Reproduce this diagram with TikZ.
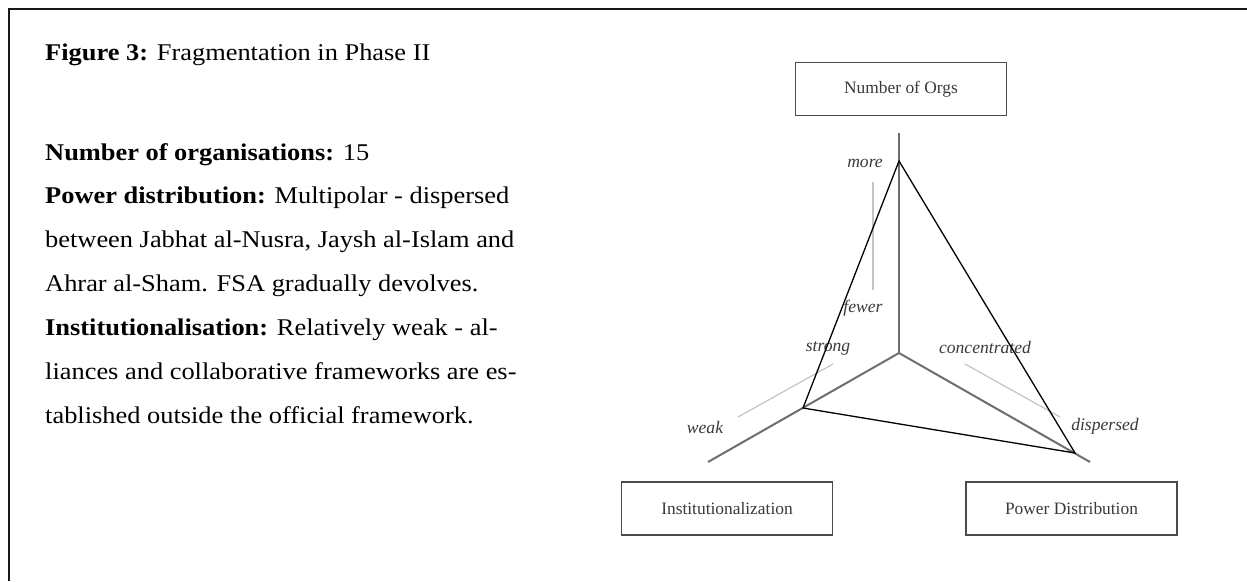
\documentclass[tikz,border=0pt]{standalone}
\usepackage{fontspec}
\setmainfont{Liberation Serif}
\newfontfamily\bodyfont[FakeStretch=1.1]{Liberation Serif}
\definecolor{axisgray}{HTML}{6E6E6E}
\definecolor{guidegray}{HTML}{C4C4C4}
\definecolor{boxgray}{HTML}{4A4A4A}
\definecolor{labelgray}{HTML}{3A3A3A}
\begin{document}
\begin{tikzpicture}[x=1pt,y=-1pt,
  bodytext/.style={anchor=base west,inner sep=0pt,font=\bodyfont\fontsize{24}{24}\selectfont},
  dimbox/.style={draw=boxgray,line width=1.4pt,minimum width=211pt,minimum height=53pt,
    inner sep=0pt,text=labelgray,font=\fontsize{17.4}{17.4}\selectfont},
  polelabel/.style={inner sep=0pt,text=labelgray,font=\itshape\fontsize{17.6}{17.6}\selectfont},
  axisline/.style={draw=axisgray,line width=2pt},
  guideline/.style={draw=guidegray,line width=1.2pt},
  profile/.style={draw=black,line width=1.3pt,line join=miter}]
\useasboundingbox (0,0) rectangle (1247,581);
\fill[white] (0,0) rectangle (1247,581);

% frame
\draw[line width=2pt,black!90] (9,581) -- (9,9) -- (1247,9);

% description text
\node[bodytext] (t1) at (45,60) {\textbf{Figure 3:} Fragmentation in Phase II};
\node[bodytext] (t2) at (45,160) {\textbf{Number of organisations:} 15};
\node[bodytext] (t3) at (45,203.5) {\textbf{Power distribution:} Multipolar - dispersed};
\node[bodytext] (t4) at (45,247) {between Jabhat al-Nusra, Jaysh al-Islam and};
\node[bodytext] (t5) at (45,291) {Ahrar al-Sham. FSA gradually devolves.};
\node[bodytext] (t6) at (45,335) {\textbf{Institutionalisation:} Relatively weak - al-};
\node[bodytext] (t7) at (45,379) {liances and collaborative frameworks are es-};
\node[bodytext] (t8) at (45,423) {tablished outside the official framework.};

% dimension boxes
\node[dimbox] (orgs) at (901,89) {Number of Orgs};
\node[dimbox] (inst) at (727,508.5) {Institutionalization};
\node[dimbox] (power) at (1071.5,508.5) {Power Distribution};

% axes
\coordinate (O) at (899,353);
\coordinate (topend) at (899,133);
\coordinate (leftend) at (708,462);
\coordinate (rightend) at (1090,462);
\draw[axisline] (topend) -- (O);
\draw[axisline] (O) -- (leftend);
\draw[axisline] (O) -- (rightend);

% guide lines between pole labels
\coordinate (g1a) at (873,182);
\coordinate (g1b) at (873,290);
\coordinate (g2a) at (738,417);
\coordinate (g2b) at (833,364);
\coordinate (g3a) at (965,364);
\coordinate (g3b) at (1060,417);
\draw[guideline] (g1a) -- (g1b);
\draw[guideline] (g2a) -- (g2b);
\draw[guideline] (g3a) -- (g3b);

% pole labels
\node[polelabel] (more) at (865,163) {more};
\node[polelabel] (fewer) at (863,308) {fewer};
\node[polelabel] (strong) at (828,348) {strong};
\node[polelabel] (weak) at (705,427) {weak};
\node[polelabel] (conc) at (985,347) {concentrated};
\node[polelabel] (disp) at (1105,426) {dispersed};

% phase profile
\coordinate (pA) at (899,161);
\coordinate (pB) at (803,408);
\coordinate (pC) at (1075,453);
\draw[profile] (pA) -- (pB) -- (pC) -- cycle;
\end{tikzpicture}
\end{document}
